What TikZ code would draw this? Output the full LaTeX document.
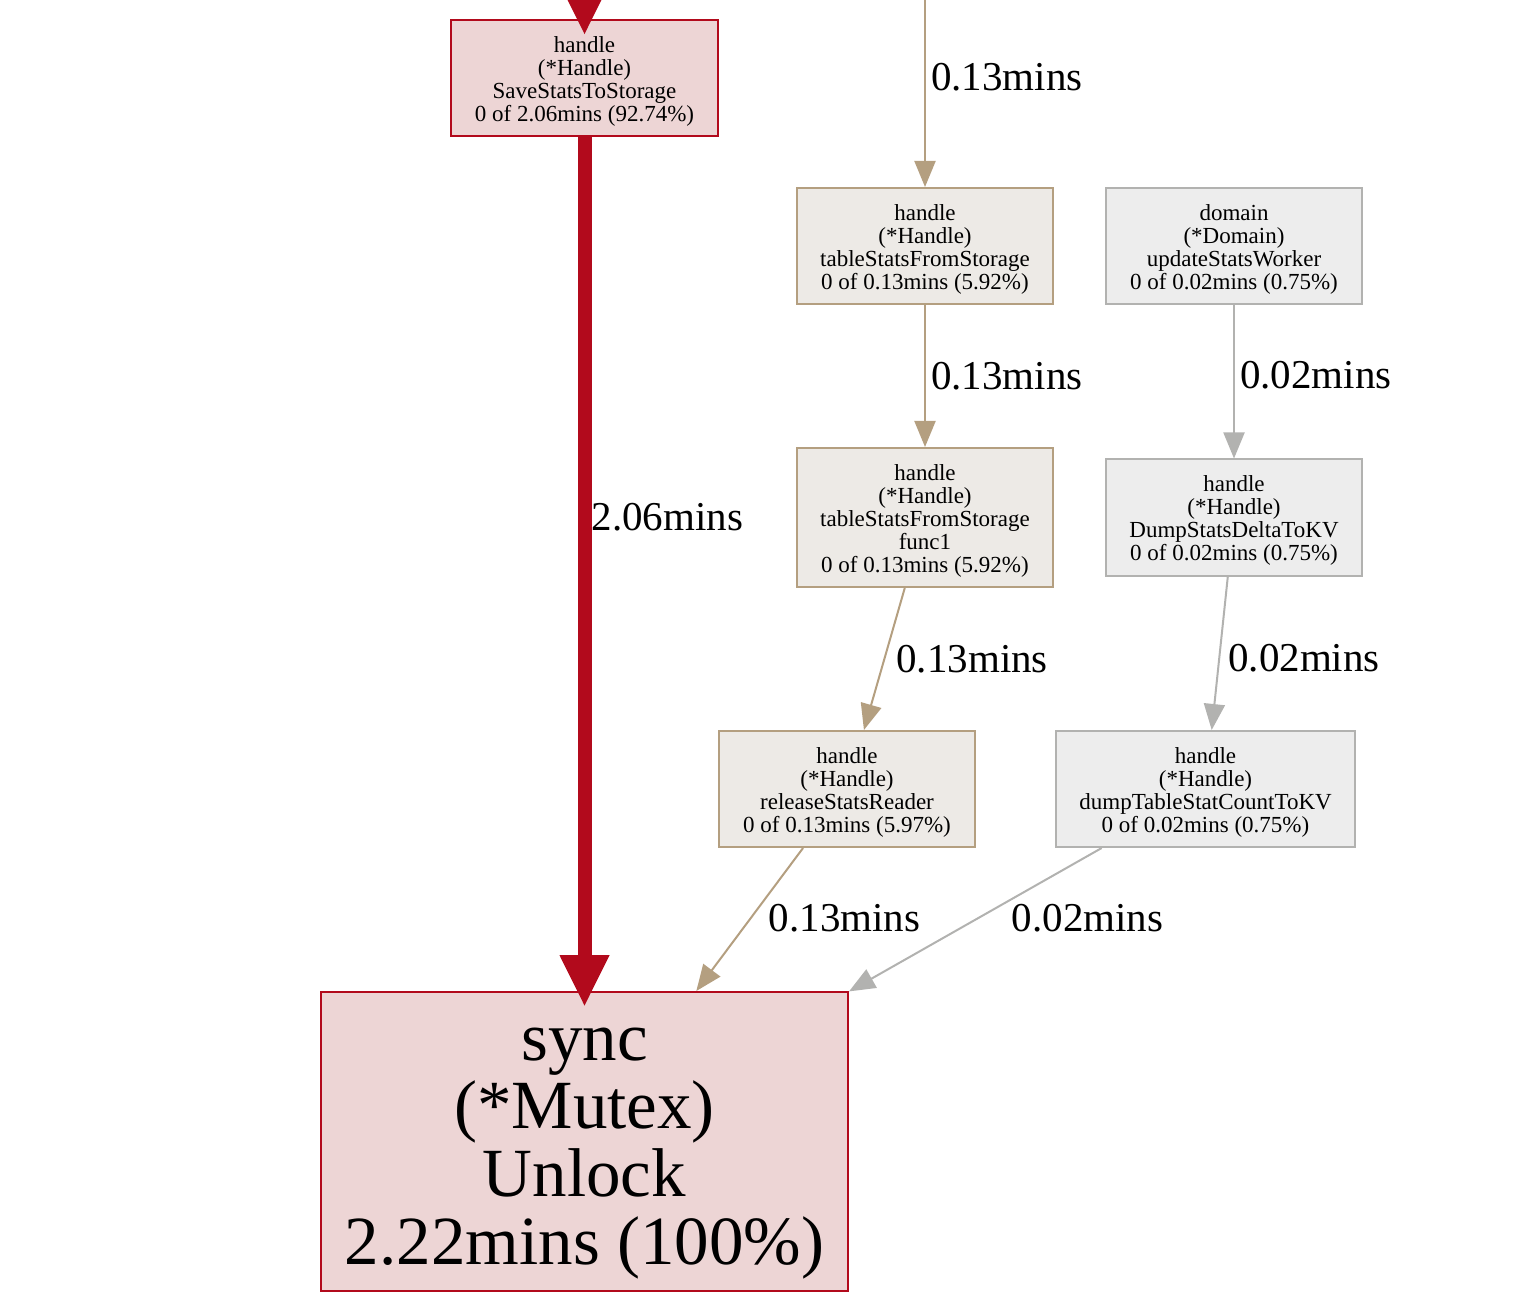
\documentclass[tikz,border=0pt]{standalone}
\usepackage{fontspec}
\setmainfont{Liberation Serif}
\usetikzlibrary{arrows.meta}
\definecolor{hotred}{HTML}{B20A1C}
\definecolor{hotfill}{HTML}{EDD5D5}
\definecolor{tanline}{HTML}{B49F80}
\definecolor{tanfill}{HTML}{EDEAE6}
\definecolor{greyline}{HTML}{B2B2B0}
\definecolor{greyfill}{HTML}{EDEDED}
% invisible rule that lowers the text block a little
\newcommand{\toprule}[1]{\rule{0pt}{#1}}
\begin{document}
\begin{tikzpicture}[x=0.5pt, y=-0.5pt,
  fn/.style={draw, rectangle, align=center, inner sep=0pt, line width=1pt,
    minimum width=128pt, minimum height=58pt, font=\fontsize{11.5}{11.5}\selectfont},
  hot/.style={fn, draw=hotred, fill=hotfill},
  warm/.style={fn, draw=tanline, fill=tanfill},
  cold/.style={fn, draw=greyline, fill=greyfill},
  lbl/.style={anchor=west, inner sep=0pt, font=\fontsize{20.5}{20.5}\selectfont},
  hotedge/.style={draw=hotred, line width=7pt, -{Triangle[length=26pt, width=23pt]}, shorten >=-8pt},
  warmedge/.style={draw=tanline, line width=1pt, -{Triangle[length=13pt, width=10.5pt]}},
  coldedge/.style={draw=greyline, line width=1pt, -{Triangle[length=13pt, width=10.5pt]}}]
\clip (0,0) rectangle (1530,1304);

% Functions
\node[hot, minimum width=133.5pt] (saveStats) at (584.5,78.5)
  {\toprule{11pt}handle\\(*Handle)\\SaveStatsToStorage\\0 of 2.06mins (92.74\%)};
\node[warm] (tableStats) at (925,246)
  {\toprule{11pt}handle\\(*Handle)\\tableStatsFromStorage\\0 of 0.13mins (5.92\%)};
\node[cold] (updateWorker) at (1234,246)
  {\toprule{11pt}domain\\(*Domain)\\updateStatsWorker\\0 of 0.02mins (0.75\%)};
\node[warm, minimum height=69.5pt] (tableStatsFunc) at (925,517.5)
  {\toprule{11pt}handle\\(*Handle)\\tableStatsFromStorage\\func1\\0 of 0.13mins (5.92\%)};
\node[cold] (dumpDelta) at (1234,517.5)
  {\toprule{11pt}handle\\(*Handle)\\DumpStatsDeltaToKV\\0 of 0.02mins (0.75\%)};
\node[warm] (releaseReader) at (847,789)
  {\toprule{11pt}handle\\(*Handle)\\releaseStatsReader\\0 of 0.13mins (5.97\%)};
\node[cold, minimum width=149.5pt] (dumpCount) at (1205.5,789)
  {\toprule{11pt}handle\\(*Handle)\\dumpTableStatCountToKV\\0 of 0.02mins (0.75\%)};
\node[hot, minimum width=263.5pt, minimum height=149.5pt, font=\fontsize{34.5}{34}\selectfont]
  (unlock) at (584.5,1141.5) {\toprule{28pt}sync\\(*Mutex)\\Unlock\\2.22mins (100\%)};

% Calls coming from above the picture
\coordinate (hotIn) at (584.5,-60);
\coordinate (warmIn) at (925,-10);
\draw[hotedge] (hotIn) -- (saveStats);
\draw[warmedge] (warmIn) -- (tableStats)
  node[lbl, pos=0.444, xshift=2.5pt] (wIn) {0.13mins};

% Calls
\draw[hotedge] (saveStats) -- (unlock)
  node[lbl, pos=0.445, xshift=0pt] (wSave) {2.06mins};
\draw[warmedge] (tableStats) -- (tableStatsFunc)
  node[lbl, midway, xshift=2.5pt] (wTable) {0.13mins};
\draw[coldedge] (updateWorker) -- (dumpDelta)
  node[lbl, pos=0.455, xshift=2.5pt] (wUpdate) {0.02mins};
\draw[warmedge] (tableStatsFunc) -- (releaseReader)
  node[lbl, midway, xshift=5.5pt] (wFunc) {0.13mins};
\draw[coldedge] (dumpDelta) -- (dumpCount)
  node[lbl, pos=0.53, xshift=4pt] (wDelta) {0.02mins};
\draw[warmedge] (releaseReader) -- (unlock)
  node[lbl, pos=0.49, xshift=8.5pt] (wRelease) {0.13mins};
\draw[coldedge] (dumpCount) -- (unlock)
  node[lbl, pos=0.49, xshift=16.5pt] (wCount) {0.02mins};
\end{tikzpicture}
\end{document}
